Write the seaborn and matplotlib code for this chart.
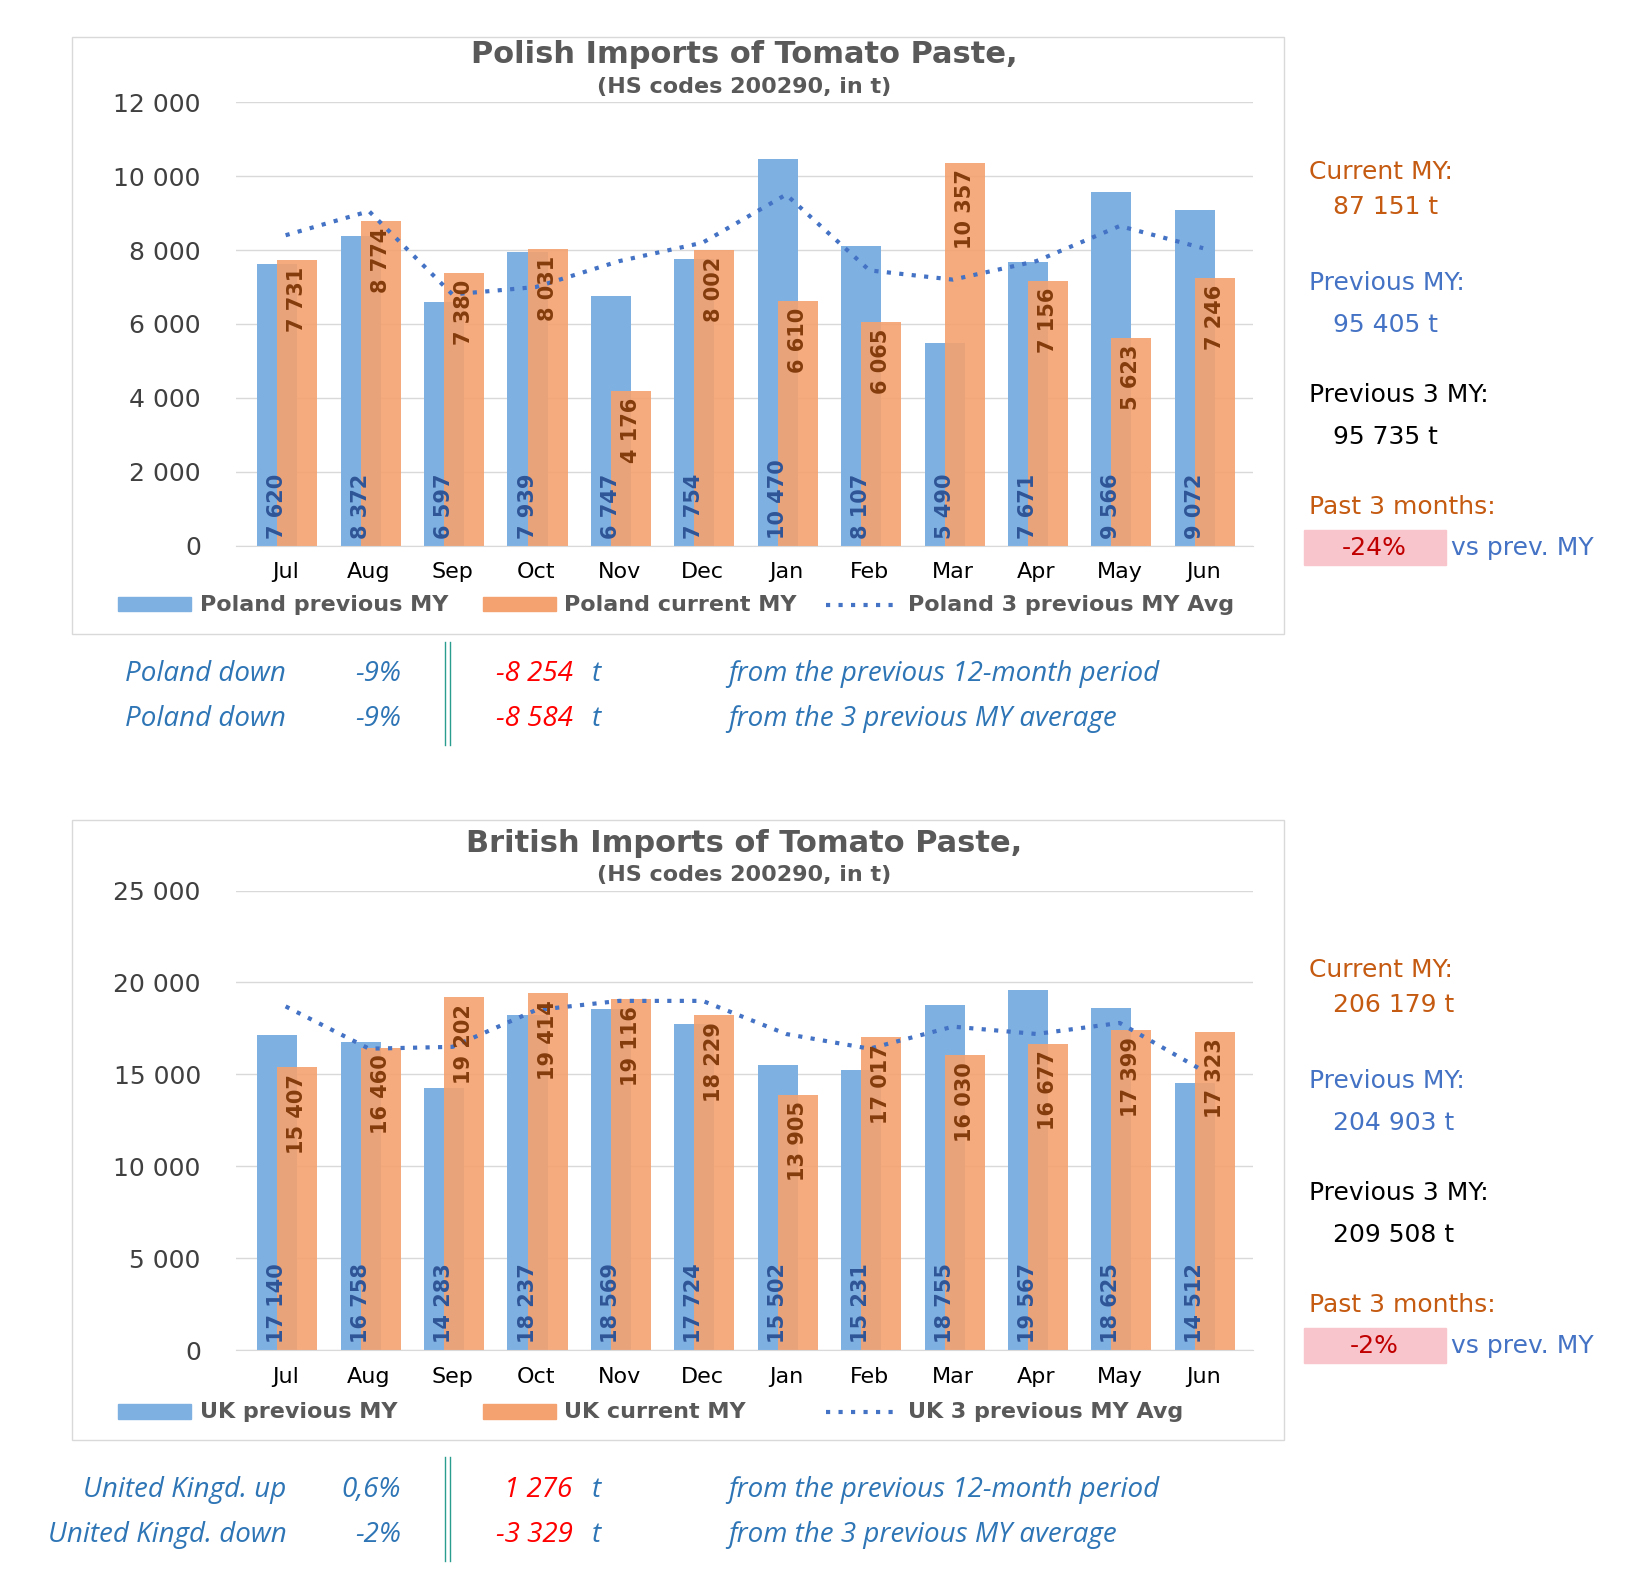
import seaborn as sns
import pandas as pd
import numpy as np
import matplotlib.pyplot as plt
from matplotlib.patches import Rectangle

MONTHS = ["Jul", "Aug", "Sep", "Oct", "Nov", "Dec", "Jan", "Feb", "Mar", "Apr", "May", "Jun"]
BLUE = "#7eb0e2"
ORANGE = "#f4a270"
TXT_BLUE = "#4472c4"
TXT_ORANGE = "#c55a11"


def fmt(v):
    return f"{v:,}".replace(",", " ")


def plot_country(fig, rect, df, name, title, ymax, step, legend_y):
    ax = fig.add_axes(rect)
    x = np.arange(12)
    sns.barplot(x=df["month"], y=df["prev"], color=BLUE, width=0.48, saturation=1, ax=ax)
    n = len(ax.patches)
    sns.barplot(x=df["month"], y=df["cur"], color=ORANGE, width=0.48, saturation=1, alpha=0.9, ax=ax)
    for i, p in enumerate(ax.patches):
        p.set_x(p.get_x() + (-0.1 if i < n else 0.14))
    sns.lineplot(x=x, y=df["avg"].values, color="#4472c4", linestyle=(0, (1, 2)), lw=3, ax=ax)
    for i in x:
        ax.text(i - 0.1, ymax * 0.015, fmt(df["prev"][i]), rotation=90, ha="center", va="bottom",
                color="#2f5597", fontsize=15, fontweight="bold")
        ax.text(i + 0.14, df["cur"][i] - ymax * 0.015, fmt(df["cur"][i]), rotation=90, ha="center", va="top",
                color="#843c0c", fontsize=15, fontweight="bold")
    ax.set_ylim(0, ymax)
    ax.set_xlim(-0.6, 11.6)
    ax.set_yticks(np.arange(0, ymax + 1, step))
    ax.set_yticklabels([fmt(int(v)) for v in np.arange(0, ymax + 1, step)], fontsize=18, color="#404040")
    ax.tick_params(axis="x", labelsize=16, length=0, pad=12)
    ax.tick_params(axis="y", length=0, pad=25)
    ax.set_xlabel("")
    ax.set_ylabel("")
    ax.grid(axis="y", color="#d9d9d9", lw=1)
    ax.set_axisbelow(True)
    sns.despine(ax=ax, left=True, bottom=False)
    ax.spines["bottom"].set_color("#d9d9d9")
    ax.set_title(title, fontsize=22, fontweight="bold", color="#595959", pad=28)
    ax.text(0.5, 1.02, "(HS codes 200290, in t)", transform=ax.transAxes, ha="center",
            fontsize=16, fontweight="bold", color="#595959")
    # legend
    lx = [0.072, 0.295, 0.505]
    labels = [f"{name} previous MY", f"{name} current MY", f"{name} 3 previous MY Avg"]
    for j, (xx, lab) in enumerate(zip(lx, labels)):
        if j < 2:
            fig.patches.append(Rectangle((xx, legend_y - 0.004), 0.045, 0.009, color=[BLUE, ORANGE][j],
                                         transform=fig.transFigure))
        else:
            fig.lines.append(plt.Line2D([xx, xx + 0.045], [legend_y, legend_y], color="#4472c4",
                                        ls=(0, (1, 2)), lw=3, transform=fig.transFigure))
        fig.text(xx + 0.05, legend_y, lab, fontsize=16, fontweight="bold", color="#595959", va="center")
    return ax


def side_panel(fig, top, cur, prev, prev3, past):
    fig.text(0.80, top, "Current MY:", fontsize=18, color=TXT_ORANGE)
    fig.text(0.815, top - 0.022, fmt(cur) + " t", fontsize=18, color=TXT_ORANGE)
    fig.text(0.80, top - 0.07, "Previous MY:", fontsize=18, color=TXT_BLUE)
    fig.text(0.815, top - 0.096, fmt(prev) + " t", fontsize=18, color=TXT_BLUE)
    fig.text(0.80, top - 0.14, "Previous 3 MY:", fontsize=18, color="black")
    fig.text(0.815, top - 0.166, fmt(prev3) + " t", fontsize=18, color="black")
    fig.text(0.80, top - 0.21, "Past 3 months:", fontsize=18, color=TXT_ORANGE)
    fig.patches.append(Rectangle((0.797, top - 0.242), 0.087, 0.022, color="#f8c5cc",
                                 transform=fig.transFigure))
    fig.text(0.84, top - 0.236, past, fontsize=18, color="#c00000", ha="center")
    fig.text(0.887, top - 0.236, "vs prev. MY", fontsize=18, color=TXT_BLUE)


def summary(fig, y, rows):
    for k, (who, pct, diff, txt) in enumerate(rows):
        yy = y - k * 0.028
        st = dict(fontsize=20, style="italic", color="#2e75b6", family="Open Sans")
        fig.text(0.175, yy, who, ha="right", **st)
        fig.text(0.245, yy, pct, ha="right", **st)
        fig.text(0.35, yy, diff, ha="right", fontsize=20, style="italic", color="red", family="Open Sans")
        fig.text(0.362, yy, "t", **st)
        fig.text(0.445, yy, txt, **st)
    fig.lines.append(plt.Line2D([0.272, 0.272], [y - 0.04, y + 0.025], color="#2a9d8f", lw=1,
                                transform=fig.transFigure))
    fig.lines.append(plt.Line2D([0.275, 0.275], [y - 0.04, y + 0.025], color="#2a9d8f", lw=1,
                                transform=fig.transFigure))


def main():
    fig = plt.figure(figsize=(16.36, 15.96), dpi=100, facecolor="white")
    pl = pd.DataFrame({
        "month": MONTHS,
        "prev": [7620, 8372, 6597, 7939, 6747, 7754, 10470, 8107, 5490, 7671, 9566, 9072],
        "cur": [7731, 8774, 7380, 8031, 4176, 8002, 6610, 6065, 10357, 7156, 5623, 7246],
        "avg": [8400, 9050, 6800, 7000, 7700, 8200, 9500, 7450, 7200, 7700, 8650, 8050],
    })
    uk = pd.DataFrame({
        "month": MONTHS,
        "prev": [17140, 16758, 14283, 18237, 18569, 17724, 15502, 15231, 18755, 19567, 18625, 14512],
        "cur": [15407, 16460, 19202, 19414, 19116, 18229, 13905, 17017, 16030, 16677, 17399, 17323],
        "avg": [18700, 16400, 16500, 18500, 19000, 19000, 17200, 16400, 17600, 17200, 17800, 15200],
    })
    for yb, h in [(0.603, 0.374), (0.098, 0.388)]:
        fig.patches.append(Rectangle((0.044, yb), 0.741, h, fill=False, ec="#d9d9d9", lw=1,
                                     transform=fig.transFigure))
    plot_country(fig, [0.144, 0.658, 0.622, 0.278], pl, "Poland",
                 "Polish Imports of Tomato Paste,", 12000, 2000, 0.621)
    plot_country(fig, [0.144, 0.154, 0.622, 0.288], uk, "UK",
                 "British Imports of Tomato Paste,", 25000, 5000, 0.115)
    side_panel(fig, 0.888, 87151, 95405, 95735, "-24%")
    side_panel(fig, 0.388, 206179, 204903, 209508, "-2%")
    summary(fig, 0.573, [("Poland down", "-9%", "-8 254", "from the previous 12-month period"),
                         ("Poland down", "-9%", "-8 584", "from the 3 previous MY average")])
    summary(fig, 0.062, [("United Kingd. up", "0,6%", "1 276", "from the previous 12-month period"),
                         ("United Kingd. down", "-2%", "-3 329", "from the 3 previous MY average")])
    fig.savefig("out.png", dpi=100)


if __name__ == "__main__":
    main()
